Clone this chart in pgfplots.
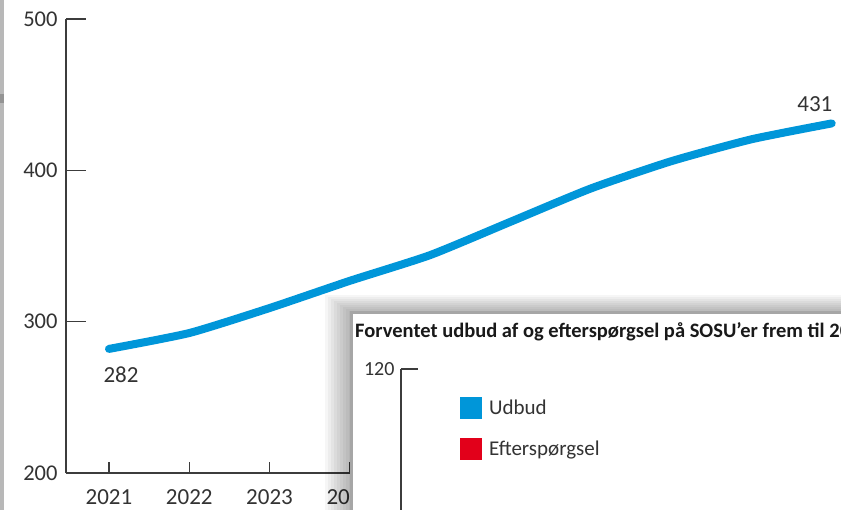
\documentclass[border=0pt]{standalone}
\usepackage{pgfplots}
\pgfplotsset{compat=1.18}
\usepackage{fontspec}
\setmainfont{Carlito}
\definecolor{axisgray}{HTML}{3C3C3C}
\definecolor{labelgray}{HTML}{333333}
\definecolor{lineblue}{HTML}{0096D9}
\definecolor{legred}{HTML}{E2001A}
\begin{document}
\begin{tikzpicture}
\path[use as bounding box, clip] (0,0) rectangle (841bp,-510bp);
\fill[white] (0,0) rectangle (841bp,-510bp);
% collage edge on the left
\fill[black!28] (0,0) rectangle (4bp,-510bp);
\fill[black!42] (0,-94bp) rectangle (4bp,-103bp);
% main chart: y axis
\begin{axis}[at={(66bp,-473bp)}, anchor=south west, scale only axis,
  width=775bp, height=454bp,
  xmin=2020.465, xmax=2030.116, ymin=200, ymax=500,
  axis y line=left, axis x line=none,
  y axis line style={-, line width=1.5bp, color=axisgray},
  ytick={200,300,400,500}, xtick=\empty,
  major tick length=20bp, tick align=inside,
  ytick style={line width=1.5bp, color=axisgray},
  /pgf/number format/assume math mode=true,
  yticklabel style={font=\fontsize{22.5bp}{24bp}\selectfont, text=labelgray, xshift=-5bp},
]
\addplot[draw=none] coordinates {(2021,282)};
\end{axis}
% main chart: x axis and data
\begin{axis}[at={(66bp,-473bp)}, anchor=south west, scale only axis,
  width=775bp, height=454bp,
  xmin=2020.465, xmax=2030.116, ymin=200, ymax=500,
  axis x line=bottom, axis y line=none,
  x axis line style={-, line width=1.5bp, color=axisgray},
  xtick={2021,2022,...,2030}, ytick=\empty,
  major tick length=11bp, tick align=inside,
  xtick style={line width=1.5bp, color=axisgray},
  /pgf/number format/1000 sep={},
  /pgf/number format/assume math mode=true,
  xticklabel style={font=\fontsize{23bp}{24bp}\selectfont, text=labelgray, yshift=-13bp},
  clip=false,
]
\addplot[color=lineblue, line width=8bp, line cap=round, line join=round, smooth, tension=0.35]
 coordinates {
 (2021,282) (2022,292.5) (2023,309) (2024,327) (2025,344)
 (2026,366) (2027,388) (2028,406) (2029,420.5) (2030,431)
 };
\node[font=\fontsize{23bp}{24bp}\selectfont, text=labelgray] at (axis cs:2021.15,265) {282};
\node[font=\fontsize{23bp}{24bp}\selectfont, text=labelgray] at (axis cs:2029.79,444) {431};
\end{axis}
% overlaid screenshot: shadow
\foreach \i in {1,...,9} {
  \fill[black, opacity=0.035] ({352bp-3bp*\i},{-313bp+2bp*\i}) rectangle (845bp,-515bp);
}
\fill[black!35] (350bp,-311bp) rectangle (845bp,-515bp);
\fill[white] (352.5bp,-313.5bp) rectangle (845bp,-515bp);
\node[anchor=base west, font=\bfseries\fontsize{20.5bp}{22bp}\selectfont, text=black!90, inner sep=0pt]
  at (355bp,-337bp) {Forventet udbud af og efterspørgsel på SOSU’er frem til 2030};
% inset axis
\begin{axis}[at={(401bp,-369bp)}, anchor=north west, scale only axis,
  width=500bp, height=300bp,
  xmin=0, xmax=10, ymin=0, ymax=120,
  axis y line=left, axis x line=none,
  y axis line style={-, line width=1.3bp, color=axisgray},
  ytick={120}, xtick=\empty,
  major tick length=17bp, tick align=inside,
  ytick style={line width=1.3bp, color=axisgray},
  /pgf/number format/assume math mode=true,
  yticklabel style={font=\fontsize{20bp}{22bp}\selectfont, text=labelgray, xshift=-3bp},
  legend style={at={(axis description cs:0.112,0.915)}, anchor=north west, draw=none, fill=none,
    font=\fontsize{21bp}{22bp}\selectfont, text=labelgray, row sep=19bp},
  legend cell align=left,
  legend image code/.code={\fill[#1] (0bp,-11bp) rectangle (22bp,11bp);},
]
\addlegendimage{fill=lineblue, draw=none}
\addlegendentry{\hspace*{5bp}Udbud}
\addlegendimage{fill=legred, draw=none}
\addlegendentry{\hspace*{5bp}Efterspørgsel}
\end{axis}
\end{tikzpicture}
\end{document}
